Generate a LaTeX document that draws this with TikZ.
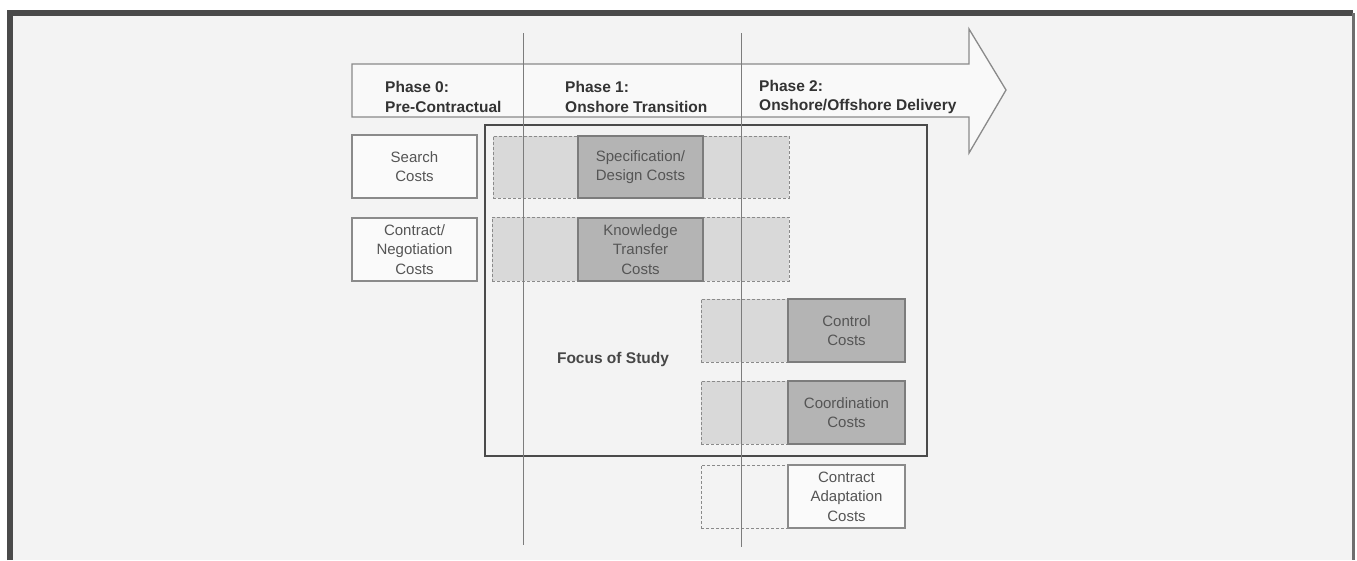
\documentclass[tikz,border=0pt]{standalone}
\usepackage{fontspec}
\setmainfont{Liberation Sans}
\usetikzlibrary{positioning}
\definecolor{bgc}{HTML}{F3F3F3}
\definecolor{framec}{HTML}{4A4A4A}
\definecolor{darkbox}{HTML}{B4B4B4}
\definecolor{lightbox}{HTML}{D9D9D9}
\definecolor{txtc}{HTML}{555555}
\definecolor{headc}{HTML}{333333}
\definecolor{linec}{HTML}{8A8A8A}
\tikzset{
  boxtext/.style={font=\fontsize{15}{19.5}\selectfont, text=txtc, align=center},
  plainbox/.style={draw=linec, line width=1.2pt, fill=white!60!bgc, boxtext, inner sep=0pt},
  solidbox/.style={draw=linec!90!black, line width=1.2pt, fill=darkbox, boxtext, inner sep=0pt},
  dashbox/.style={draw=linec, line width=1pt, dash pattern=on 3pt off 2pt, fill=lightbox, inner sep=0pt},
  dashempty/.style={draw=linec, line width=1pt, dash pattern=on 3pt off 2pt, inner sep=0pt},
  phaselabel/.style={font=\fontsize{15.5}{19.5}\selectfont\bfseries, text=headc, align=left, anchor=west, inner sep=0pt},
  phaseline/.style={draw=linec!90!black, line width=1pt}
}
\begin{document}
\begin{tikzpicture}[x=1pt,y=-1pt]
\useasboundingbox (0,0) rectangle (1357,560);
% background panel and frame
\fill[bgc] (10,13) rectangle (1353,560);
\draw[framec, line width=6pt] (10,560) -- (10,13) -- (1353,13);
\draw[framec!80, line width=3pt] (1353,13) -- (1353,560);
% big arrow
\draw[linec, line width=1.3pt, fill=white!50!bgc] (352,64) -- (969,64) -- (969,29) -- (1006,90) -- (969,153) -- (969,117) -- (352,117) -- cycle;
% phase labels
\node[phaselabel] (p0) at (385,97) {Phase 0:\\Pre-Contractual};
\node[phaselabel] (p1) at (565,97) {Phase 1:\\Onshore Transition};
\node[phaselabel] (p2) at (759,97) {Phase 2:\\Onshore/Offshore Delivery};
% focus box
\node[draw=framec, line width=2pt, minimum width=442pt, minimum height=331pt, inner sep=0pt] (focus) at (706,290.5) {};
\node[font=\fontsize{15.5}{18}\selectfont\bfseries, text=headc!90!white] (focuslbl) at (613,359) {Focus of Study};
% phase 0 boxes
\node[plainbox, minimum width=125pt, minimum height=63pt] (search) at (414.5,166.5) {Search\\Costs};
\node[plainbox, minimum width=125pt, minimum height=63pt] (negot) at (414.5,249.5) {Contract/\\Negotiation\\Costs};
% phase 1 rows
\node[dashbox, minimum width=296pt, minimum height=62pt] (specrow) at (641,167) {};
\node[solidbox, minimum width=125pt, minimum height=62pt] (spec) at (640.5,167) {Specification/\\Design Costs};
\node[dashbox, minimum width=297pt, minimum height=64pt] (knowrow) at (640.5,249) {};
\node[solidbox, minimum width=125pt, minimum height=63pt] (know) at (640.5,249.5) {Knowledge\\Transfer\\Costs};
% phase 2 rows
\node[dashbox, minimum width=88pt, minimum height=63pt] (ctrlrow) at (745,330.5) {};
\node[solidbox, minimum width=117pt, minimum height=63pt] (ctrl) at (846.5,330.5) {Control\\Costs};
\node[dashbox, minimum width=88pt, minimum height=63pt] (coordrow) at (745,412.5) {};
\node[solidbox, minimum width=117pt, minimum height=63pt] (coord) at (846.5,412.5) {Coordination\\Costs};
\node[dashempty, minimum width=88pt, minimum height=63pt] (adaptrow) at (745,496.5) {};
\node[plainbox, minimum width=117pt, minimum height=63pt] (adapt) at (846.5,496.5) {Contract\\Adaptation\\Costs};
% phase separators
\coordinate (s1t) at (523,33);
\coordinate (s1b) at (523,545);
\coordinate (s2t) at (741,33);
\coordinate (s2b) at (741,547);
\draw[phaseline] (s1t) -- (s1b);
\draw[phaseline] (s2t) -- (s2b);
\end{tikzpicture}
\end{document}
